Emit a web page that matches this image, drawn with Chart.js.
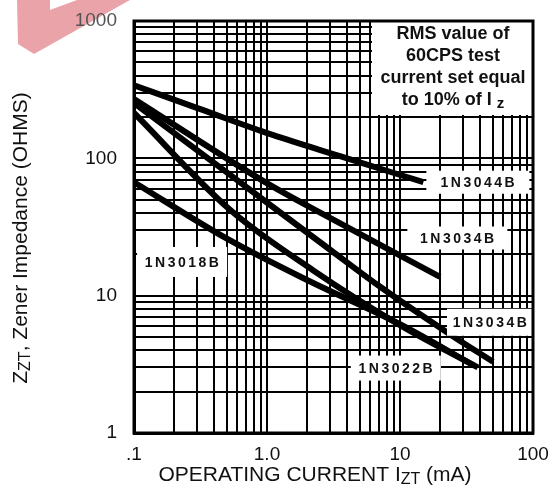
<!DOCTYPE html>
<html>
<head>
<meta charset="utf-8">
<script src="https://cdn.jsdelivr.net/npm/chart.js@4.4.1/dist/chart.umd.min.js"></script>
<style>
  html,body{margin:0;padding:0;background:#fff;}
  #wrap{width:555px;height:499px;position:relative;}
</style>
</head>
<body>
<div id="wrap"><canvas id="zChart" width="555" height="499"></canvas></div>
<script>
// Curvas Zzt vs Izt
const cur3044 = [0.1, 0.3, 1.1, 4, 15];
const z3044   = [340, 232, 148, 100, 67];
const cur3034a = [0.1, 1.05, 3, 20];
const z3034a   = [270, 64, 36.7, 13.7];
const cur3034b = [0.1, 0.6, 3, 7.1, 24, 50];
const z3034b   = [253, 69, 21.5, 11.6, 5.2, 3.3];
const cur3022 = [0.1, 0.53, 2.2, 10, 38.5];
const z3022   = [214, 42, 15.4, 6.1, 3.0];
const cur3018 = [0.1, 0.5, 2, 10, 36];
const z3018   = [67, 26, 13, 6.2, 3.1];

// Ticks de ejes
const xTickVals = [0.1, 1, 10, 100];
const xTickText = ['.1', '1.0', '10', '100'];
const yTickVals = [1, 10, 100, 1000];
const yTickText = ['1', '10', '100', '1000'];

function logTicks(min, max){
  const out = [];
  for(let d = min; d < max; d *= 10){
    for(let k = 1; k < 10; k++) out.push(+(d*k).toPrecision(3));
  }
  out.push(max);
  return out;
}

function pts(xs, ys){ return xs.map((x,i)=>({x:x, y:ys[i]})); }

const FONT = '"Liberation Sans", Arial, Helvetica, sans-serif';

// Etiquetas de curvas (centro en coordenadas de datos)
const curveLabels = [
  {text:'1N3044B', x:38.5, y:67,  w:103, h:23},
  {text:'1N3034B', x:27,   y:26.3, w:100, h:23},
  {text:'1N3018B', x:0.23, y:17.6, w:90,  h:30},
  {text:'1N3034B', x:47.5, y:6.4, w:86,  h:27},
  {text:'1N3022B', x:9.3,  y:2.97, w:90,  h:25}
];

function drawParts(ctx, parts, x, y){
  let total = 0;
  parts.forEach(p=>{ ctx.font = p.font; p.w = ctx.measureText(p.t).width; total += p.w; });
  let cx = x - total/2;
  ctx.textAlign = 'left';
  parts.forEach(p=>{
    ctx.font = p.font;
    ctx.fillText(p.t, cx, y + (p.sub ? p.sub : 0));
    cx += p.w;
  });
}

const overlay = {
  id:'overlay',
  beforeDraw(chart){
    const ctx = chart.ctx;
    ctx.save();
    // marca de agua rosa
    ctx.fillStyle = '#eba3aa';
    ctx.beginPath();
    ctx.moveTo(17,0); ctx.lineTo(130,0); ctx.lineTo(34,54); ctx.lineTo(18,44);
    ctx.closePath(); ctx.fill();
    ctx.fillStyle = '#fff';
    ctx.beginPath();
    ctx.moveTo(50,0); ctx.lineTo(77,0); ctx.lineTo(50,10);
    ctx.closePath(); ctx.fill();
    ctx.restore();
  },
  afterDatasetsDraw(chart){
    const ctx = chart.ctx, a = chart.chartArea;
    const xs = chart.scales.x, ys = chart.scales.y;
    ctx.save();
    // caja de nota
    ctx.fillStyle = '#fff';
    ctx.fillRect(a.right-161, a.top+1, 160, 93);
    ctx.fillStyle = '#111';
    ctx.textBaseline = 'middle';
    ctx.textAlign = 'center';
    ctx.font = 'bold 18px ' + FONT;
    const nx = a.right - 80;
    ctx.fillText('RMS value of', nx, a.top+13);
    ctx.fillText('60CPS test', nx, a.top+35);
    ctx.fillText('current set equal', nx, a.top+57);
    drawParts(ctx, [
      {t:'to 10% of I ', font:'bold 18px '+FONT},
      {t:'z', font:'bold 15px '+FONT, sub:4}
    ], nx, a.top+79);

    // etiquetas
    curveLabels.forEach(l=>{
      const px = xs.getPixelForValue(l.x), py = ys.getPixelForValue(l.y);
      ctx.fillStyle = '#fff';
      ctx.fillRect(px - l.w/2, py - l.h/2, l.w, l.h);
      ctx.fillStyle = '#111';
      ctx.font = 'bold 14px ' + FONT;
      ctx.letterSpacing = '2.5px';
      ctx.textAlign = 'center';
      ctx.fillText(l.text, px + 1, py + 1);
      ctx.letterSpacing = '0px';
    });

    // marco
    ctx.strokeStyle = '#000';
    ctx.lineWidth = 3;
    ctx.strokeRect(a.left, a.top, a.right-a.left, a.bottom-a.top);
    ctx.restore();
  },
  afterDraw(chart){
    const ctx = chart.ctx;
    ctx.save();
    ctx.fillStyle = '#111';
    ctx.textBaseline = 'middle';
    // titulo eje x
    drawParts(ctx, [
      {t:'OPERATING CURRENT I', font:'21px '+FONT},
      {t:'ZT', font:'16px '+FONT, sub:5},
      {t:' (mA)', font:'21px '+FONT}
    ], 315, 475);
    // titulo eje y
    ctx.translate(21, 238);
    ctx.rotate(-Math.PI/2);
    drawParts(ctx, [
      {t:'Z', font:'21px '+FONT},
      {t:'ZT', font:'16px '+FONT, sub:5},
      {t:', Zener Impedance (OHMS)', font:'21px '+FONT}
    ], 0, 0);
    ctx.restore();
  }
};

const lineStyle = {borderColor:'#000', borderWidth:6, pointRadius:0, cubicInterpolationMode:'monotone', fill:false, borderCapStyle:'butt'};

new Chart(document.getElementById('zChart').getContext('2d'), {
  type:'line',
  data:{
    datasets:[
      Object.assign({label:'1N3044B', data:pts(cur3044, z3044)}, lineStyle),
      Object.assign({label:'1N3034B', data:pts(cur3034a, z3034a)}, lineStyle),
      Object.assign({label:'1N3034B (2)', data:pts(cur3034b, z3034b)}, lineStyle),
      Object.assign({label:'1N3022B', data:pts(cur3022, z3022)}, lineStyle),
      Object.assign({label:'1N3018B', data:pts(cur3018, z3018)}, lineStyle)
    ]
  },
  options:{
    responsive:false,
    animation:false,
    layout:{padding:{top:21, right:22, left:0, bottom:0}},
    plugins:{legend:{display:false}, tooltip:{enabled:false}},
    scales:{
      x:{
        type:'logarithmic', min:0.1, max:100,
        afterBuildTicks(s){ s.ticks = logTicks(0.1, 100).map(v=>({value:v})); },
        afterFit(s){ s.height = 66; s.paddingLeft = 0; s.paddingRight = 0; },
        grid:{color:'#000', lineWidth:2, drawTicks:false},
        border:{color:'#000', width:3},
        ticks:{
          padding:10, color:'#111', autoSkip:false, maxRotation:0,
          font:{family:FONT, size:19},
          callback(v){ const i = xTickVals.findIndex(t=>Math.abs(t-v)<1e-9); return i<0 ? '' : xTickText[i]; }
        }
      },
      y:{
        type:'logarithmic', min:1, max:1000,
        afterBuildTicks(s){ s.ticks = logTicks(1, 1000).map(v=>({value:v})); },
        afterFit(s){ s.width = 134; s.paddingTop = 0; s.paddingBottom = 0; },
        grid:{color:'#000', lineWidth:2, drawTicks:false},
        border:{color:'#000', width:3},
        ticks:{
          padding:17, autoSkip:false,
          color:(c)=> c.tick && c.tick.value === 1000 ? '#555' : '#111',
          font:{family:FONT, size:19},
          callback(v){ const i = yTickVals.findIndex(t=>Math.abs(t-v)<1e-9); return i<0 ? '' : yTickText[i]; }
        }
      }
    }
  },
  plugins:[overlay]
});
</script>
</body>
</html>
